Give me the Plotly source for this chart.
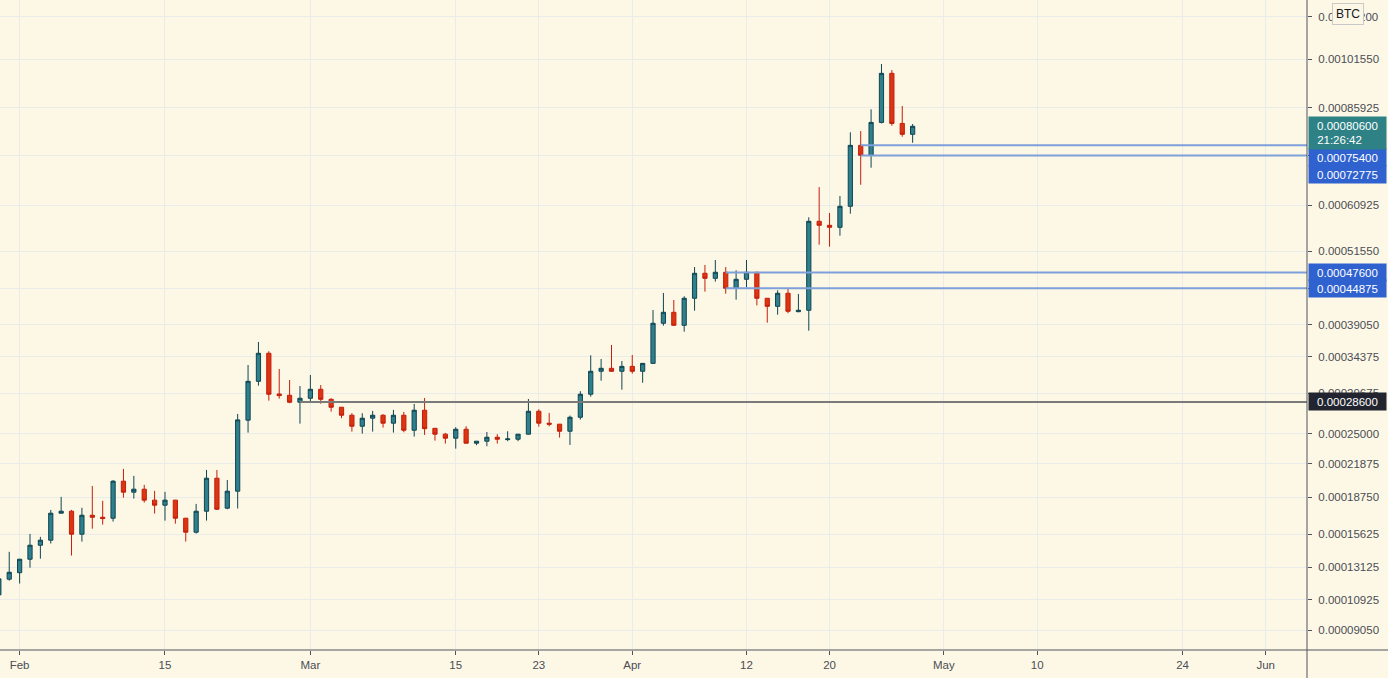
import math
import pandas as pd
import plotly.graph_objects as go

# ---------------- data ----------------
dates = pd.date_range("2021-01-30", "2021-04-28", freq="D")

open_ = [1.124e-4, 1.230e-4, 1.275e-4, 1.372e-4, 1.477e-4, 1.516e-4, 1.735e-4, 1.752e-4, 1.563e-4, 1.718e-4,
         1.701e-4, 1.693e-4, 2.020e-4, 1.919e-4, 1.946e-4, 1.848e-4, 1.804e-4, 1.848e-4, 1.693e-4, 1.579e-4,
         1.752e-4, 2.048e-4, 1.778e-4, 1.928e-4, 2.648e-4, 3.114e-4, 3.487e-4, 2.956e-4, 2.940e-4, 2.856e-4,
         2.904e-4, 3.014e-4, 2.891e-4, 2.797e-4, 2.704e-4, 2.580e-4, 2.670e-4, 2.704e-4, 2.614e-4, 2.704e-4,
         2.536e-4, 2.762e-4, 2.557e-4, 2.493e-4, 2.450e-4, 2.547e-4, 2.397e-4, 2.418e-4, 2.460e-4, 2.435e-4,
         2.439e-4, 2.493e-4, 2.750e-4, 2.614e-4, 2.603e-4, 2.525e-4, 2.681e-4, 2.953e-4, 3.244e-4, 3.283e-4,
         3.244e-4, 3.309e-4, 3.244e-4, 3.349e-4, 3.924e-4, 4.094e-4, 3.893e-4, 4.320e-4, 4.748e-4, 4.659e-4,
         4.766e-4, 4.487e-4, 4.642e-4, 4.766e-4, 4.320e-4, 4.189e-4, 4.403e-4, 4.104e-4, 4.126e-4, 5.751e-4,
         5.668e-4, 5.627e-4, 6.072e-4, 7.541e-4, 7.281e-4, 8.169e-4, 9.673e-4, 8.140e-4, 7.837e-4]
high = [1.260e-4, 1.427e-4, 1.374e-4, 1.565e-4, 1.542e-4, 1.763e-4, 1.877e-4, 1.763e-4, 1.781e-4, 1.976e-4,
        1.842e-4, 2.030e-4, 2.137e-4, 2.070e-4, 1.986e-4, 1.931e-4, 1.922e-4, 1.850e-4, 1.695e-4, 1.815e-4,
        2.127e-4, 2.127e-4, 2.031e-4, 2.719e-4, 3.327e-4, 3.647e-4, 3.515e-4, 3.274e-4, 3.131e-4, 3.055e-4,
        3.196e-4, 3.067e-4, 2.904e-4, 2.800e-4, 2.727e-4, 2.727e-4, 2.754e-4, 2.716e-4, 2.766e-4, 2.742e-4,
        2.836e-4, 2.907e-4, 2.560e-4, 2.507e-4, 2.569e-4, 2.580e-4, 2.420e-4, 2.517e-4, 2.493e-4, 2.525e-4,
        2.495e-4, 2.895e-4, 2.773e-4, 2.731e-4, 2.605e-4, 2.700e-4, 2.990e-4, 3.459e-4, 3.408e-4, 3.604e-4,
        3.381e-4, 3.463e-4, 3.350e-4, 4.130e-4, 4.408e-4, 4.292e-4, 4.353e-4, 4.860e-4, 4.897e-4, 4.989e-4,
        4.860e-4, 4.801e-4, 4.989e-4, 4.770e-4, 4.320e-4, 4.453e-4, 4.487e-4, 4.392e-4, 5.835e-4, 6.505e-4,
        5.927e-4, 6.301e-4, 7.892e-4, 7.927e-4, 8.547e-4, 9.985e-4, 9.782e-4, 8.646e-4, 8.123e-4]
low = [1.105e-4, 1.220e-4, 1.200e-4, 1.311e-4, 1.376e-4, 1.490e-4, 1.735e-4, 1.399e-4, 1.505e-4, 1.607e-4,
       1.640e-4, 1.665e-4, 1.870e-4, 1.862e-4, 1.826e-4, 1.732e-4, 1.673e-4, 1.648e-4, 1.505e-4, 1.568e-4,
       1.673e-4, 1.763e-4, 1.769e-4, 1.775e-4, 2.510e-4, 3.059e-4, 2.875e-4, 2.899e-4, 2.844e-4, 2.609e-4,
       2.868e-4, 2.839e-4, 2.746e-4, 2.670e-4, 2.521e-4, 2.499e-4, 2.521e-4, 2.565e-4, 2.510e-4, 2.514e-4,
       2.467e-4, 2.485e-4, 2.424e-4, 2.393e-4, 2.340e-4, 2.397e-4, 2.376e-4, 2.365e-4, 2.393e-4, 2.418e-4,
       2.418e-4, 2.490e-4, 2.576e-4, 2.580e-4, 2.456e-4, 2.379e-4, 2.654e-4, 2.923e-4, 3.122e-4, 3.240e-4,
       3.009e-4, 3.213e-4, 3.096e-4, 3.345e-4, 3.887e-4, 3.890e-4, 3.797e-4, 4.119e-4, 4.430e-4, 4.601e-4,
       4.396e-4, 4.297e-4, 4.504e-4, 4.204e-4, 3.933e-4, 4.056e-4, 4.078e-4, 4.094e-4, 3.812e-4, 5.280e-4,
       5.241e-4, 5.457e-4, 5.912e-4, 6.560e-4, 6.969e-4, 8.140e-4, 8.075e-4, 7.771e-4, 7.609e-4]
close = [1.232e-4, 1.278e-4, 1.372e-4, 1.477e-4, 1.516e-4, 1.735e-4, 1.752e-4, 1.563e-4, 1.718e-4, 1.701e-4,
         1.690e-4, 2.020e-4, 1.919e-4, 1.946e-4, 1.848e-4, 1.804e-4, 1.848e-4, 1.693e-4, 1.579e-4, 1.752e-4,
         2.048e-4, 1.769e-4, 1.928e-4, 2.651e-4, 3.114e-4, 3.487e-4, 2.953e-4, 2.936e-4, 2.856e-4, 2.904e-4,
         3.014e-4, 2.891e-4, 2.797e-4, 2.704e-4, 2.580e-4, 2.670e-4, 2.704e-4, 2.614e-4, 2.704e-4, 2.536e-4,
         2.762e-4, 2.553e-4, 2.493e-4, 2.450e-4, 2.547e-4, 2.397e-4, 2.418e-4, 2.460e-4, 2.439e-4, 2.442e-4,
         2.493e-4, 2.750e-4, 2.614e-4, 2.603e-4, 2.525e-4, 2.681e-4, 2.953e-4, 3.244e-4, 3.283e-4, 3.244e-4,
         3.309e-4, 3.244e-4, 3.349e-4, 3.924e-4, 4.094e-4, 3.893e-4, 4.320e-4, 4.748e-4, 4.659e-4, 4.766e-4,
         4.487e-4, 4.642e-4, 4.766e-4, 4.320e-4, 4.189e-4, 4.403e-4, 4.110e-4, 4.126e-4, 5.751e-4, 5.668e-4,
         5.627e-4, 6.072e-4, 7.541e-4, 7.281e-4, 8.169e-4, 9.673e-4, 8.140e-4, 7.837e-4, 8.060e-4]

# horizontal level lines (price, start date)
level_prices = [0.000286, 0.000476, 0.00044875, 0.000754, 0.00072775]
level_starts = ["2021-02-28", "2021-04-10", "2021-04-10", "2021-04-23", "2021-04-23"]
level_colors = ["#7a7a7a", "#7ea0da", "#7ea0da", "#7ea0da", "#7ea0da"]

# price axis ticks (labels of ticks hidden behind level labels are blank)
y_ticks = [0.0000905, 0.00010925, 0.00013125, 0.00015625, 0.0001875, 0.00021875, 0.00025,
           0.00029675, 0.00034375, 0.0003905, 0.00044875, 0.0005155, 0.00060925, 0.00072775,
           0.00085925, 0.0010155, 0.001172]
y_tick_hidden = [0.00044875, 0.00072775]
x_tick_dates = ["2021-02-01", "2021-02-15", "2021-03-01", "2021-03-15", "2021-03-23", "2021-04-01",
                "2021-04-12", "2021-04-20", "2021-05-01", "2021-05-10", "2021-05-24", "2021-06-01"]
x_tick_text = ["Feb", "15", "Mar", "15", "23", "Apr", "12", "20", "May", "10", "24", "Jun"]

last_price = 0.000806
countdown = "21:26:42"

# TradingView-style log scale: log(price + offset)
OFFSET = 0.0001
sh = lambda arr: [v + OFFSET for v in arr]

BG = "#FDF8E5"
GRID = "#E9ECE8"
AXIS = "#50535E"
TXT = "#4A4D55"
FONT = "Liberation Sans"

fig = go.Figure()
fig.add_trace(go.Candlestick(
    x=dates, open=sh(open_), high=sh(high), low=sh(low), close=sh(close),
    increasing=dict(line=dict(color="#0F4552", width=1), fillcolor="#2F7F8C"),
    decreasing=dict(line=dict(color="#C41E0C", width=1), fillcolor="#DB3512"),
    whiskerwidth=0, showlegend=False, hoverinfo="none"))

x_end = "2021-06-04 23:30"
for p, s, c in zip(level_prices, level_starts, level_colors):
    fig.add_trace(go.Scatter(x=[s, x_end], y=[p + OFFSET, p + OFFSET], mode="lines",
                             line=dict(color=c, width=2), showlegend=False, hoverinfo="skip"))

fig.update_layout(
    width=1388, height=678,
    margin=dict(l=0, r=81, t=0, b=28),
    paper_bgcolor=BG, plot_bgcolor=BG,
    boxgap=0.42,
    font=dict(family=FONT, size=12, color=TXT),
    xaxis=dict(type="date", range=["2021-01-30 02:40", x_end], rangeslider=dict(visible=False),
               tickvals=x_tick_dates, ticktext=x_tick_text, ticks="outside", ticklen=4,
               tickcolor=AXIS, showgrid=True, gridcolor=GRID, gridwidth=1, zeroline=False,
               showline=False, tickfont=dict(family=FONT, size=11.5, color=TXT)),
    yaxis=dict(type="log", side="right", range=[math.log10(0.00017909), math.log10(0.0013393)],
               tickvals=[v + OFFSET for v in y_ticks],
               ticktext=["" if v in y_tick_hidden else f"{v:.8f}" for v in y_ticks],
               ticks="outside", ticklen=4, tickcolor=AXIS, showgrid=True, gridcolor=GRID,
               ticklabelstandoff=4,
               zeroline=False, showline=False, tickfont=dict(family=FONT, size=11.5, color=TXT)),
)

# axis lines spanning full widths
fig.add_shape(type="line", xref="paper", yref="paper", x0=0, x1=1388 / 1307, y0=0, y1=0,
              line=dict(color=AXIS, width=1))
fig.add_shape(type="line", xref="paper", yref="paper", x0=1, x1=1, y0=-28 / 650, y1=1,
              line=dict(color=AXIS, width=1))

# price labels on the axis
def price_label(price, text, bg, yshift=0, height=13):
    fig.add_annotation(xref="paper", yref="y", x=1, y=math.log10(price + OFFSET), xanchor="left",
                       yanchor="middle", xshift=1, yshift=yshift, text=text, showarrow=False,
                       font=dict(family=FONT, size=11.5, color="white"), bgcolor=bg,
                       align="center", width=73, height=height, borderpad=2)

price_label(0.000286, "0.00028600", "#22252F")
price_label(0.000476, "0.00047600", "#2F62CF")
price_label(0.00044875, "0.00044875", "#2F62CF")
price_label(0.000754, "0.00075400", "#2F62CF", yshift=-12)
price_label(0.00072775, "0.00072775", "#2F62CF", yshift=-19.5)
price_label(last_price, f"{last_price:.8f}<br>{countdown}&nbsp;&nbsp;&nbsp;&nbsp;&nbsp;", "#2E8286",
            yshift=-7, height=28)

# currency badge
fig.add_annotation(xref="paper", yref="paper", x=1348 / 1307, y=1, xanchor="center", yanchor="top",
                   yshift=-3, text="BTC", showarrow=False,
                   font=dict(family=FONT, size=12, color="#131722"), bgcolor=BG,
                   bordercolor="#C9C9C9", borderwidth=1, borderpad=3)

fig.write_html("out.html")
